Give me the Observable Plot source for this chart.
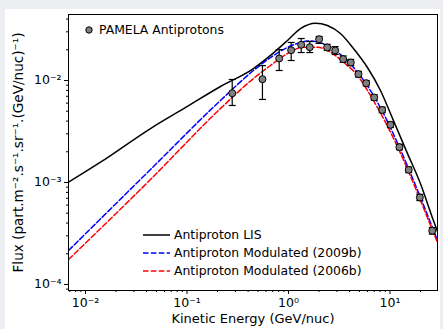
<!DOCTYPE html>
<html><head><meta charset="utf-8">
<script src="https://cdn.jsdelivr.net/npm/d3@7"></script>
<script src="https://cdn.jsdelivr.net/npm/@observablehq/plot@0.6"></script>
<style>
body{margin:0;background:#eceef2;width:443px;height:329px;overflow:hidden;font-family:"DejaVu Sans",sans-serif;}
#panel{position:absolute;left:5px;top:9px;width:435px;height:320px;background:#fff;}
#chart{position:absolute;left:0;top:0;}
.leg{position:absolute;font-size:12.4px;line-height:14px;white-space:nowrap;color:#000;display:flex;align-items:center;}
.leg svg{margin-right:4px;}
</style></head>
<body>
<div id="panel"></div>
<div id="chart"></div>
<div class="leg" style="left:84px;top:23px;"><svg width="11" height="10"><circle cx="5" cy="5" r="3.2" fill="#808080" stroke="#000" stroke-width="1"/></svg>PAMELA Antiprotons</div>
<div class="leg" style="left:143px;top:228px;"><svg width="27" height="6"><line x1="0" x2="27" y1="3" y2="3" stroke="#000" stroke-width="1.5"/></svg>Antiproton LIS</div>
<div class="leg" style="left:143px;top:246px;"><svg width="27" height="6"><line x1="0" x2="27" y1="3" y2="3" stroke="blue" stroke-width="1.5" stroke-dasharray="5.5,2.4"/></svg>Antiproton Modulated (2009b)</div>
<div class="leg" style="left:143px;top:264px;"><svg width="27" height="6"><line x1="0" x2="27" y1="3" y2="3" stroke="red" stroke-width="1.5" stroke-dasharray="5.5,2.4"/></svg>Antiproton Modulated (2006b)</div>
<script>
// PAMELA antiproton data (kinetic energy GeV/nuc, flux, error low, error high)
const pamE  = [0.279, 0.554, 0.810, 1.063, 1.334, 1.621, 2.005, 2.405, 2.885, 3.457, 4.11, 4.89, 5.83, 6.99, 8.38, 10.1, 12.4, 15.3, 19.7, 26.1];
const pamF  = [7.51e-3, 1.03e-2, 1.644e-2, 1.98e-2, 2.24e-2, 2.12e-2, 2.54e-2, 2.11e-2, 1.97e-2, 1.62e-2, 1.50e-2, 1.153e-2, 9.41e-3, 6.81e-3, 5.14e-3, 3.68e-3, 2.22e-3, 1.33e-3, 7.13e-4, 3.36e-4];
const pamLo = [5.69e-3, 6.52e-3, 1.253e-2, 1.57e-2, 1.88e-2, 1.88e-2, 2.31e-2, 1.97e-2, 1.80e-2, 1.51e-2, 1.40e-2, 1.08e-2, 8.85e-3, 6.4e-3, 4.83e-3, 3.46e-3, 2.09e-3, 1.25e-3, 6.65e-4, 3.12e-4];
const pamHi = [1.023e-2, 1.40e-2, 2.01e-2, 2.36e-2, 2.58e-2, 2.41e-2, 2.70e-2, 2.26e-2, 2.15e-2, 1.74e-2, 1.61e-2, 1.23e-2, 1.0e-2, 7.25e-3, 5.48e-3, 3.92e-3, 2.37e-3, 1.42e-3, 7.65e-4, 3.62e-4];

// Antiproton LIS
const lisE = [0.00681, 0.01406, 0.0437, 0.0989, 0.2138, 0.452, 0.665, 0.978, 1.313, 1.845, 2.42, 3.25, 4.37, 6.00, 8.06, 10.8, 14.9, 19.95, 26.8, 29.4];
const lisF = [1.007e-3, 1.58e-3, 3.38e-3, 5.50e-3, 8.73e-3, 1.31e-2, 1.76e-2, 2.47e-2, 3.23e-2, 3.65e-2, 3.46e-2, 2.89e-2, 2.06e-2, 1.34e-2, 7.97e-3, 4.06e-3, 1.92e-3, 9.77e-4, 4.24e-4, 3.31e-4];

// Modulated (2009b)
const m09E = [0.00681, 0.0437, 0.2138, 0.452, 0.665, 0.978, 1.313, 1.539, 1.931, 2.593, 3.483, 4.784, 6.426, 8.63, 11.33, 15.22, 19.98, 29.38];
const m09F = [2.154e-4, 1.341e-3, 6.37e-3, 1.253e-2, 1.680e-2, 2.11e-2, 2.36e-2, 2.44e-2, 2.38e-2, 2.12e-2, 1.692e-2, 1.206e-2, 7.97e-3, 4.75e-3, 2.70e-3, 1.372e-3, 7.13e-4, 2.70e-4];

// Modulated (2006b)
const m06E = [0.00681, 0.0437, 0.2138, 0.452, 0.665, 0.978, 1.405, 1.931, 2.593, 3.483, 4.784, 6.426, 8.63, 11.33, 15.22, 19.98, 29.38];
const m06F = [1.758e-4, 1.070e-3, 5.31e-3, 1.046e-2, 1.403e-2, 1.839e-2, 2.12e-2, 2.12e-2, 1.894e-2, 1.511e-2, 1.12e-2, 7.13e-3, 4.24e-3, 2.47e-3, 1.283e-3, 6.66e-4, 2.58e-4];

const xMajor = [0.01, 0.1, 1, 10];
const yMajor = [1e-4, 1e-3, 1e-2];

const xDomain = [0.0068, 29.4];
const yDomain = [8.73e-5, 0.04436];

const minorTicks = (dom) => {
  const out = [];
  for (let n = -6; n <= 3; n++) for (let k = 2; k <= 9; k++) {
    const v = k * Math.pow(10, n);
    if (v >= dom[0] && v <= dom[1]) out.push(v);
  }
  return out;
};
const supMap = {"-":"⁻","0":"⁰","1":"¹","2":"²","3":"³","4":"⁴","5":"⁵","6":"⁶","7":"⁷","8":"⁸","9":"⁹"};
const fmt = d => "10" + String(Math.round(Math.log10(d))).split("").map(c => supMap[c]).join("");

const pam = pamE.map((e, i) => ({E: e, F: pamF[i], lo: pamLo[i], hi: pamHi[i]}));
const lis = lisE.map((e, i) => ({E: e, F: lisF[i]}));
const m09 = m09E.map((e, i) => ({E: e, F: m09F[i]}));
const m06 = m06E.map((e, i) => ({E: e, F: m06F[i]}));

const capSymbol = {draw(ctx, size) { ctx.moveTo(-3.5, 0); ctx.lineTo(3.5, 0); }};

const chart = Plot.plot({
  width: 443, height: 329,
  marginLeft: 68, marginRight: 6, marginTop: 14, marginBottom: 39,
  style: {fontFamily: "DejaVu Sans, sans-serif", fontSize: "12.5px", background: "transparent", color: "#000"},
  x: {type: "log", domain: xDomain},
  y: {type: "log", domain: yDomain},
  marks: [
    Plot.axisX(minorTicks(xDomain), {tickSize: 2, tickFormat: () => "", label: null}),
    Plot.axisY(minorTicks(yDomain), {tickSize: 2, tickFormat: () => "", label: null}),
    Plot.axisX(xMajor, {tickSize: 4, tickPadding: 4, tickFormat: fmt, fontSize: 12.5,
      label: "Kinetic Energy (GeV/nuc)", labelAnchor: "center", labelOffset: 32, labelArrow: "none"}),
    Plot.axisY(yMajor, {tickSize: 4, tickPadding: 3, tickFormat: fmt, fontSize: 12.5,
      label: "Flux (part.m⁻².s⁻¹.sr⁻¹.(GeV/nuc)⁻¹)", labelAnchor: "center", labelOffset: 55, labelArrow: "none"}),
    Plot.line(lis, {x: "E", y: "F", stroke: "black", strokeWidth: 1.5, curve: "monotone-x", clip: true}),
    Plot.line(m09, {x: "E", y: "F", stroke: "blue", strokeWidth: 1.5, strokeDasharray: "5.5,2.4", curve: "monotone-x", clip: true}),
    Plot.line(m06, {x: "E", y: "F", stroke: "red", strokeWidth: 1.5, strokeDasharray: "5.5,2.4", curve: "monotone-x", clip: true}),
    Plot.ruleX(pam, {x: "E", y1: "lo", y2: "hi", stroke: "black", strokeWidth: 1.2}),
    Plot.dot(pam, {x: "E", y: "lo", symbol: capSymbol, stroke: "black", strokeWidth: 1.2, r: 3}),
    Plot.dot(pam, {x: "E", y: "hi", symbol: capSymbol, stroke: "black", strokeWidth: 1.2, r: 3}),
    Plot.dot(pam, {x: "E", y: "F", r: 3.5, fill: "#808080", stroke: "black", strokeWidth: 1}),
    Plot.frame({stroke: "black", strokeWidth: 1})
  ]
});
document.getElementById("chart").appendChild(chart);
// axis label font sizes
chart.querySelectorAll("g[aria-label='x-axis label'] text").forEach(t => t.setAttribute("font-size", "13px"));
chart.querySelectorAll("g[aria-label='y-axis label'] text").forEach(t => t.setAttribute("font-size", "13.6px"));
</script>
</body></html>
